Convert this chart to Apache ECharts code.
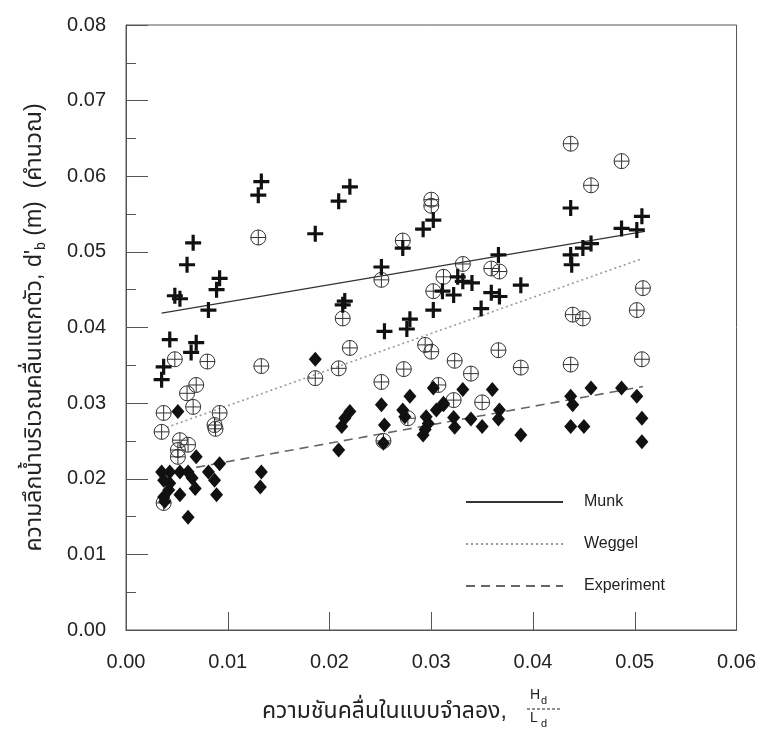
<!DOCTYPE html>
<html>
<head>
<meta charset="utf-8">
<script src="https://cdn.jsdelivr.net/npm/echarts@6/dist/echarts.min.js"></script>
<style>
html,body{margin:0;padding:0;background:#fff;}
#main{width:759px;height:730px;}
</style>
</head>
<body>
<div id="main"></div>
<script>
// ---- data ----
const xTicks = [0, 0.01, 0.02, 0.03, 0.04, 0.05, 0.06];
const yTicks = [0, 0.01, 0.02, 0.03, 0.04, 0.05, 0.06, 0.07, 0.08];

// + markers : computed d'b (Munk)
const munkPts = [
  [0.0133,0.0593],[0.0130,0.0575],[0.0066,0.0512],[0.0060,0.0483],[0.0092,0.0465],
  [0.0089,0.0450],[0.0048,0.0442],[0.0053,0.0438],[0.0081,0.0423],[0.0043,0.0384],
  [0.0069,0.0380],[0.0064,0.0367],[0.0037,0.0348],[0.0035,0.0331],
  [0.0220,0.0586],[0.0209,0.0567],[0.0186,0.0524],[0.0302,0.0542],[0.0292,0.0530],
  [0.0272,0.0505],[0.0251,0.0480],[0.0213,0.0430],[0.0215,0.0435],[0.0254,0.0395],
  [0.0276,0.0398],[0.0279,0.0411],[0.0302,0.0423],
  [0.0437,0.0558],[0.0507,0.0547],[0.0487,0.0531],[0.0502,0.0529],[0.0457,0.0511],
  [0.0449,0.0505],[0.0437,0.0496],[0.0438,0.0483],[0.0366,0.0496],[0.0326,0.0467],
  [0.0331,0.0461],[0.0340,0.0459],[0.0311,0.0448],[0.0322,0.0443],[0.0359,0.0446],
  [0.0367,0.0441],[0.0388,0.0456],[0.0349,0.0425]
];
// circled-plus markers : computed d'b (Weggel)
const weggelPts = [
  [0.0130,0.0519],[0.0048,0.0358],[0.0080,0.0355],[0.0133,0.0349],[0.0069,0.0324],
  [0.0060,0.0313],[0.0066,0.0295],[0.0037,0.0287],[0.0092,0.0287],[0.0035,0.0262],
  [0.0087,0.0271],[0.0088,0.0266],[0.0053,0.0251],[0.0061,0.0245],[0.0051,0.0238],
  [0.0051,0.0229],[0.0037,0.0168],
  [0.0300,0.0569],[0.0300,0.0561],[0.0272,0.0515],[0.0251,0.0463],[0.0312,0.0467],
  [0.0302,0.0448],[0.0213,0.0412],[0.0294,0.0377],[0.0300,0.0368],[0.0220,0.0373],
  [0.0209,0.0346],[0.0186,0.0333],[0.0273,0.0345],[0.0251,0.0328],[0.0307,0.0324],
  [0.0277,0.0280],[0.0253,0.0250],
  [0.0437,0.0643],[0.0487,0.0620],[0.0457,0.0588],[0.0331,0.0484],[0.0359,0.0478],
  [0.0367,0.0474],[0.0508,0.0452],[0.0502,0.0423],[0.0439,0.0417],[0.0449,0.0412],
  [0.0507,0.0358],[0.0437,0.0351],[0.0366,0.0370],[0.0388,0.0347],[0.0323,0.0356],
  [0.0339,0.0339],[0.0322,0.0304],[0.0350,0.0301]
];
// filled diamonds : experiment
const expPts = [
  [0.0051,0.0289],[0.0069,0.0229],[0.0092,0.0220],[0.0035,0.0209],[0.0043,0.0209],
  [0.0053,0.0209],[0.0061,0.0209],[0.0037,0.0198],[0.0043,0.0194],[0.0065,0.0201],
  [0.0068,0.0187],[0.0081,0.0209],[0.0087,0.0198],[0.0089,0.0179],[0.0053,0.0179],
  [0.0037,0.0176],[0.0038,0.0170],[0.0061,0.0149],[0.0133,0.0209],[0.0132,0.0189],
  [0.0042,0.0185],
  [0.0186,0.0358],[0.0279,0.0309],[0.0302,0.0320],[0.0251,0.0298],[0.0220,0.0289],
  [0.0215,0.0280],[0.0212,0.0269],[0.0254,0.0271],[0.0272,0.0291],[0.0274,0.0282],
  [0.0295,0.0282],[0.0297,0.0273],[0.0294,0.0265],[0.0292,0.0258],[0.0305,0.0291],
  [0.0312,0.0298],[0.0253,0.0247],[0.0209,0.0238],
  [0.0331,0.0318],[0.0360,0.0318],[0.0312,0.0300],[0.0322,0.0281],[0.0323,0.0268],
  [0.0339,0.0279],[0.0350,0.0269],[0.0367,0.0291],[0.0366,0.0279],[0.0388,0.0258],
  [0.0437,0.0309],[0.0439,0.0298],[0.0437,0.0269],[0.0450,0.0269],[0.0457,0.0320],
  [0.0487,0.0320],[0.0502,0.0309],[0.0507,0.0280],[0.0507,0.0249]
];
// fitted lines
const munkLine = [[0.0035,0.0419],[0.0510,0.0527]];
const weggelLine = [[0.0040,0.0268],[0.0505,0.0490]];
const expLine = [[0.0040,0.0208],[0.0508,0.0322]];

const legendNames = ['Munk', 'Weggel', 'Experiment'];
const yTitle = "ความลึกน้ำบริเวณคลื่นแตกตัว, d'";
const yTitleSub = 'b';
const yTitleTail = ' (m)  (คำนวณ)';
const xTitle = 'ความชันคลื่นในแบบจำลอง,';

// ---- chart ----
const FONT = "'Liberation Sans', Arial, 'Noto Sans Thai', 'Noto Sans', sans-serif";
const INK = '#222';
const chart = echarts.init(document.getElementById('main'), null, {renderer: 'canvas'});

const plusPath = 'path://M4,0H6V4H10V6H6V10H4V6H0V4H4Z';
const oplusPath = 'path://M0,5A5,5 0 1,1 10,5A5,5 0 1,1 0,5ZM5,0L5,10M0,5L10,5';

chart.setOption({
  backgroundColor: '#fff',
  animation: false,
  textStyle: {fontFamily: FONT},
  grid: {left: 126, top: 25, right: 22, bottom: 100, show: true, borderColor: '#555', borderWidth: 1},
  legend: {
    data: legendNames,
    orient: 'vertical',
    left: 460, top: 489,
    itemWidth: 97, itemHeight: 14, itemGap: 26,
    itemStyle: {opacity: 0},
    textStyle: {fontSize: 16, color: INK, fontFamily: FONT, padding: [0,0,0,16]},
    selectedMode: false
  },
  xAxis: {
    type: 'value', min: xTicks[0], max: xTicks[xTicks.length-1], interval: 0.01,
    axisLine: {show: true, lineStyle: {color: '#555', width: 1}},
    axisTick: {show: true, inside: true, length: 18, lineStyle: {color: '#555'}},
    minorTick: {show: false},
    splitLine: {show: false},
    axisLabel: {fontSize: 20, color: INK, margin: 22, fontFamily: FONT,
      formatter: v => v.toFixed(2)}
  },
  yAxis: {
    type: 'value', min: yTicks[0], max: yTicks[yTicks.length-1], interval: 0.01,
    axisLine: {show: true, lineStyle: {color: '#555', width: 1}},
    axisTick: {show: true, inside: true, length: 22, lineStyle: {color: '#555'}},
    minorTick: {show: true, splitNumber: 2, length: 10, lineStyle: {color: '#555'}},
    splitLine: {show: false},
    axisLabel: {fontSize: 20, color: INK, margin: 20, fontFamily: FONT,
      formatter: v => v.toFixed(2)},
    name: '{a|' + yTitle + '}{s|' + yTitleSub + '}{a|' + yTitleTail + '}',
    nameLocation: 'middle', nameGap: 78, nameRotate: 90,
    nameTextStyle: {
      rich: {
        a: {fontSize: 23, color: INK, fontFamily: FONT},
        s: {fontSize: 14, color: INK, fontFamily: FONT, padding: [12,0,0,0]}
      }
    }
  },
  graphic: [
    {type: 'text', left: 262, top: 700, style: {text: xTitle, fontSize: 23, fill: INK, fontFamily: FONT}},
    {type: 'text', left: 530, top: 688, style: {text: 'H', fontSize: 14, fill: INK, fontFamily: FONT}},
    {type: 'text', left: 541, top: 695, style: {text: 'd', fontSize: 11, fill: INK, fontFamily: FONT}},
    {type: 'line', shape: {x1: 527, y1: 709, x2: 560, y2: 709}, style: {stroke: INK, lineWidth: 1, lineDash: [3,2]}},
    {type: 'text', left: 530, top: 711, style: {text: 'L', fontSize: 14, fill: INK, fontFamily: FONT}},
    {type: 'text', left: 541, top: 718, style: {text: 'd', fontSize: 11, fill: INK, fontFamily: FONT}}
  ],
  series: [
    {name: 'Munk', type: 'line', data: munkLine, symbol: 'none', z: 2,
     lineStyle: {color: '#333', width: 1.3, type: 'solid'}, itemStyle: {color: '#333'}},
    {name: 'Weggel', type: 'line', data: weggelLine, symbol: 'none', z: 2,
     lineStyle: {color: '#9a9a9a', width: 1.6, type: [2, 3]}, itemStyle: {color: '#9a9a9a'}},
    {name: 'Experiment', type: 'line', data: expLine, symbol: 'none', z: 2,
     lineStyle: {color: '#666', width: 1.6, type: [9, 6]}, itemStyle: {color: '#666'}},
    {name: 'weggelPts', type: 'scatter', data: weggelPts, symbol: oplusPath, symbolSize: 15, z: 3,
     itemStyle: {color: 'rgba(255,255,255,0)', borderColor: '#333', borderWidth: 1, opacity: 1}},
    {name: 'expPts', type: 'scatter', data: expPts, symbol: 'diamond', symbolSize: [13, 15], z: 4,
     itemStyle: {color: '#111', opacity: 1}},
    {name: 'munkPts', type: 'scatter', data: munkPts, symbol: plusPath, symbolSize: 16, z: 5,
     itemStyle: {color: '#111', opacity: 1}}
  ]
});
</script>
</body>
</html>
